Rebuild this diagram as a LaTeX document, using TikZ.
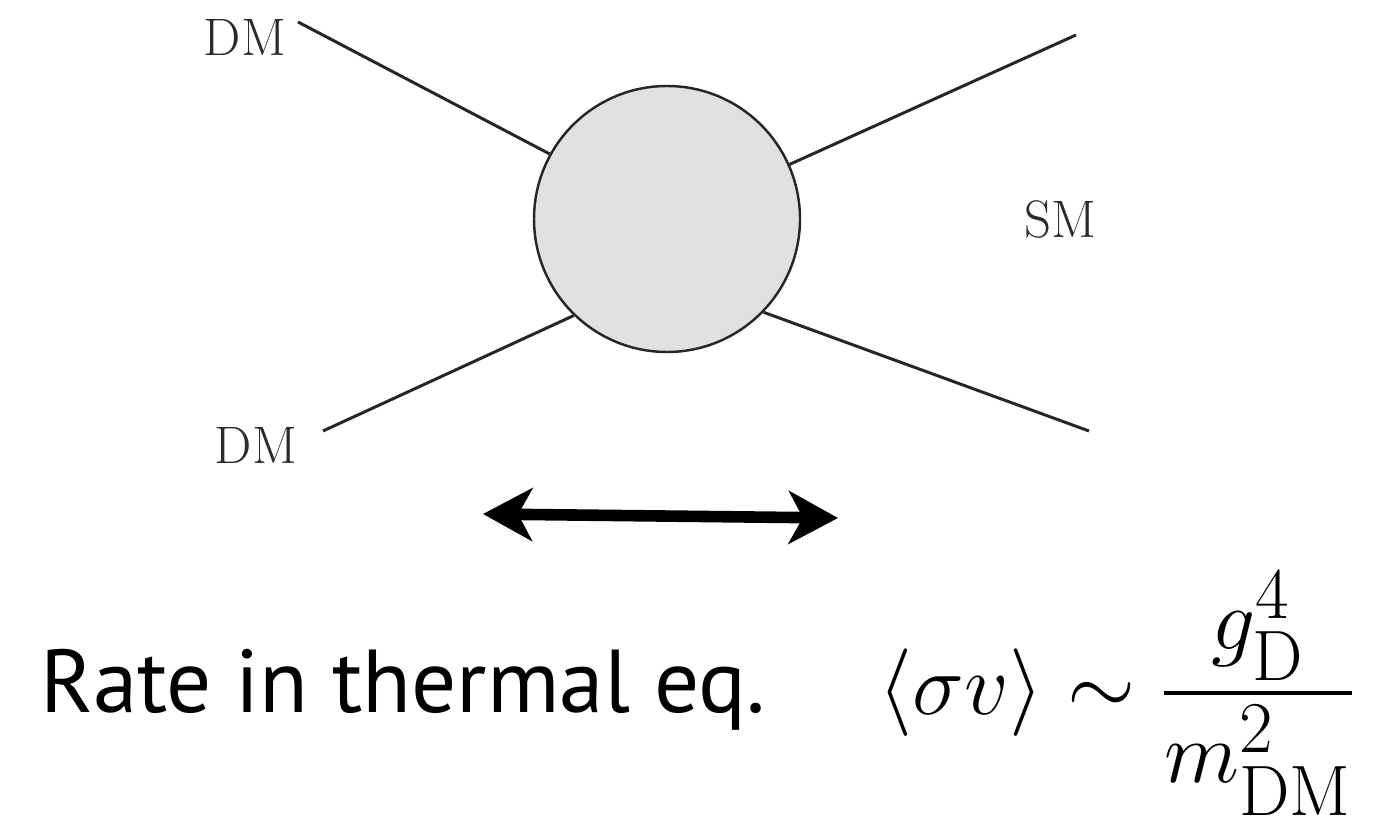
\documentclass[tikz,border=0pt]{standalone}
\usepackage{fontspec}
\usepackage{amsmath}
\newfontfamily\ratefont{PT Sans}
\usetikzlibrary{arrows.meta}
\definecolor{blobfill}{HTML}{E0E0E0}
\definecolor{labelcol}{HTML}{2B2B2B}
\tikzset{
  leg/.style={line width=0.85pt, draw=black!85},
  blob/.style={circle, draw=black!85, line width=0.7pt, fill=blobfill, minimum size=266*0.01cm, inner sep=0pt},
  plabel/.style={text=labelcol, font=\fontsize{15}{18}\selectfont, inner sep=0pt},
  eqarrow/.style={line width=3.3pt, {Stealth[length=14pt,width=15pt,inset=4pt]}-{Stealth[length=14pt,width=15pt,inset=4pt]}}
}
\begin{document}
\begin{tikzpicture}[x=0.01cm,y=-0.01cm]
\useasboundingbox (0,0) rectangle (1373,816);
\node[blob] (c) at (667,219) {};
\coordinate (a1) at (298,22);
\coordinate (a2) at (323,431);
\coordinate (b1) at (1076,35);
\coordinate (b2) at (1089,431);
\draw[leg] (a1) -- (c.{180-28.8});
\draw[leg] (a2) -- (c.{180+46.8});
\draw[leg] (b1) -- (c.{24.8});
\draw[leg] (b2) -- (c.{-44.5});
\node[plabel] (dm1) at (245,37) {DM};
\node[plabel] (dm2) at (256,445) {DM};
\node[plabel] (sm) at (1060,219) {SM};
\coordinate (l) at (483,514);
\coordinate (r) at (838,518);
\draw[eqarrow] (l) -- (r);
\node[anchor=base west, inner sep=0pt, font=\ratefont\fontsize{25.4}{30}\selectfont] (rate) at (40,712) {Rate in thermal eq.};
\node[anchor=base east, inner sep=0pt, font=\fontsize{29}{34}\selectfont] (eq) at (1357,715) {$\displaystyle \langle\sigma v\rangle\sim\frac{g_{\mathrm{D}}^{4}}{m_{\mathrm{DM}}^{2}}$};
\end{tikzpicture}
\end{document}
